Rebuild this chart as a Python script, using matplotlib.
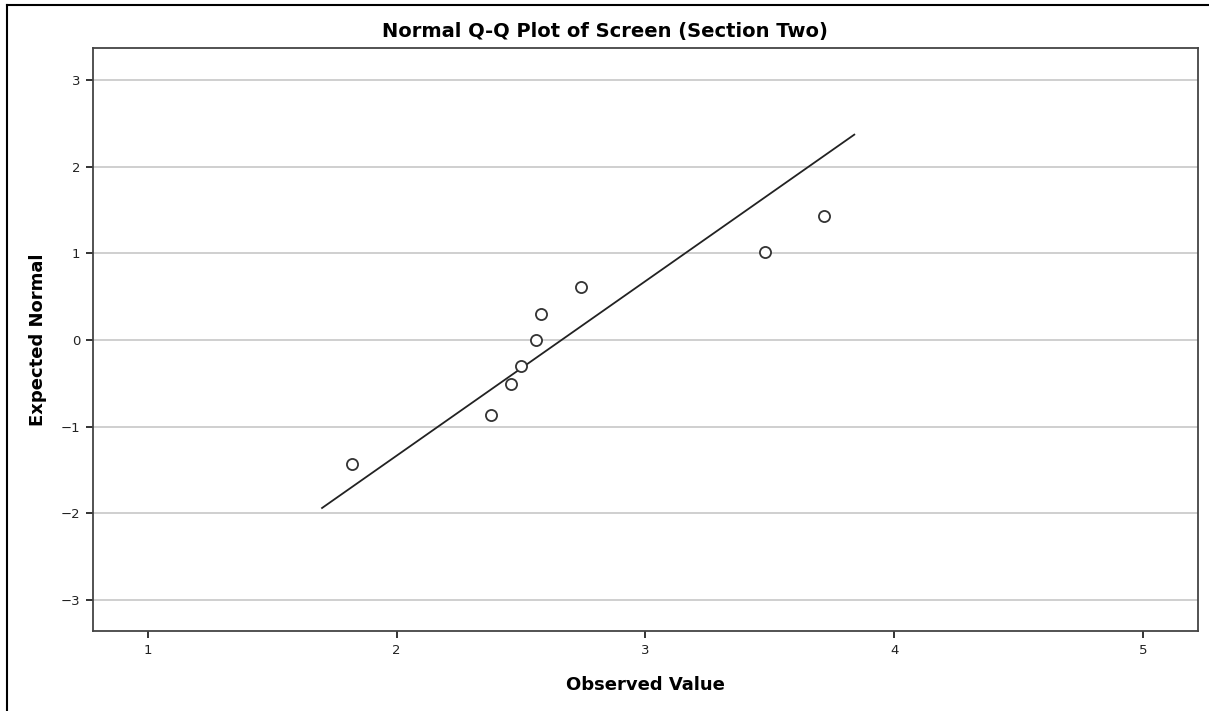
import matplotlib
matplotlib.use("Agg")
import matplotlib.pyplot as plt
from matplotlib.lines import Line2D
from matplotlib import font_manager

# Data
observed = [1.82, 2.38, 2.46, 2.50, 2.56, 2.58, 2.74, 3.48, 3.72]
expected = [-1.43, -0.87, -0.51, -0.30, 0.00, 0.30, 0.61, 1.02, 1.43]
line_x = [1.70, 3.84]
line_y = [-1.94, 2.37]
x_ticks = [1, 2, 3, 4, 5]
y_ticks = [-3, -2, -1, 0, 1, 2, 3]
title = "Normal Q-Q Plot of Screen (Section Two)"
xlabel = "Observed Value"
ylabel = "Expected Normal"

names = {f.name for f in font_manager.fontManager.ttflist}
narrow = "Liberation Sans Narrow" if "Liberation Sans Narrow" in names else "DejaVu Sans"

fig = plt.figure(figsize=(12.09, 7.11), dpi=100)
ax = fig.add_axes([93/1209, 1 - 631/711, (1198-93)/1209, (631-48)/711])

ax.set_xlim(0.779, 5.222)
ax.set_ylim(-3.36, 3.37)

for y in y_ticks:
    ax.axhline(y, color="#cfcfcf", lw=1.4, zorder=1)

ax.plot(line_x, line_y, color="#222222", lw=1.3, zorder=2)
ax.plot(observed, expected, linestyle="none", marker="o", markersize=8,
        markerfacecolor="white", markeredgecolor="#333333", markeredgewidth=1.3, zorder=3)

ax.set_xticks(x_ticks)
ax.set_yticks(y_ticks)
ax.set_xticklabels([str(t) for t in x_ticks])
ax.set_yticklabels([str(t).replace("-", "\u2212") for t in y_ticks])
ax.tick_params(axis="both", direction="out", length=5, width=1.4, color="#333333",
               labelsize=9.5, labelcolor="#222222", pad=4)
for s in ax.spines.values():
    s.set_color("#444444")
    s.set_linewidth(1.3)

ax.set_xlabel(xlabel, fontsize=13, fontweight="bold", family=narrow, labelpad=14)
ax.set_ylabel(ylabel, fontsize=13, fontweight="bold", family=narrow, labelpad=10)
fig.text(0.5, 1 - 32/711, title, ha="center", va="center",
         fontsize=14, fontweight="bold", family=narrow)

# outer frame (left and top edges)
fig.add_artist(Line2D([7/1209, 7/1209], [0, 1 - 5/711], color="black", lw=1.5,
                      transform=fig.transFigure))
fig.add_artist(Line2D([7/1209, 1], [1 - 5/711, 1 - 5/711], color="black", lw=1.5,
                      transform=fig.transFigure))

fig.savefig("out.png", dpi=100)
